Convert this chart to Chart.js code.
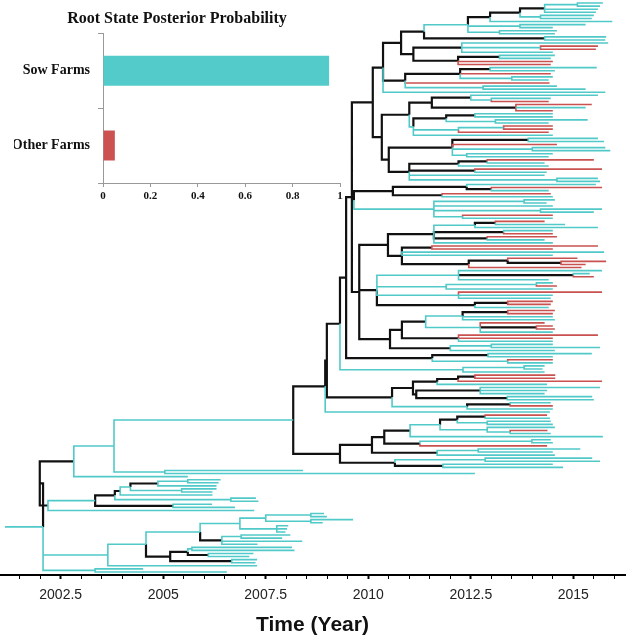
<!DOCTYPE html>
<html>
<head>
<meta charset="utf-8">
<script src="https://cdn.jsdelivr.net/npm/chart.js@4.4.1/dist/chart.umd.min.js"></script>
<style>
  html, body { margin: 0; padding: 0; background: #fff; }
  #wrap { position: relative; width: 630px; height: 640px; }
  #treeChart, #rootChart { position: absolute; left: 0; top: 0; }
</style>
</head>
<body>
<div id="wrap">
  <canvas id="treeChart" width="630" height="640"></canvas>
  <canvas id="rootChart" width="354" height="205"></canvas>
</div>
<script>
// inset: posterior probability of the root state
const rootStates = ['Sow Farms', 'Other Farms'];
const rootProbs = [0.954, 0.05];
const probTicks = [0, 0.2, 0.4, 0.6, 0.8, 1];

// time axis
const yearTicks = [2002.5, 2005, 2007.5, 2010, 2012.5, 2015];
const yearMin = 2001.02;
const yearMax = 2016.26;

// tree clades, newick-like: state letter + node time (years after 2000)
// S = sow farms (teal), O = other farms (red), K = black
const yearBase = 2000;
const rootStart = 1.14;

const cladeI = "((((S15.72,S15.65)S15.1,S15.6,S15.55)K14.3,(S15.5,S15.45)S14.2)K13.7,S15.95)K12.97";
const cladeG2 = "((S15.85,(O15.6,O15.55)S14.2,S14.5)K12.28,((S14.55,S14.45)K13.2,O14.5,O14.45)K12.19)K11.1";
const cladeF2 = "(((S15.57,S14.55)K12.97,O14.45,(S14.5,S14.4)S13.5)K12.24,O14.42,(S14.6,S15.3)S12.8)K10.9";
const cladeNa1 = "((S15.6,(S14.45,O14.4)S13.0)K12.5,(O15.45,S15.3,O14.5)K13.6)K11.55";
const cladeNa2 = "(((S14.5,S14.5)K12.6,(S15.35,S14.4)S13.1)K11.9,((O14.5,O14.5)S13.3,O14.4)S12.2,S14.5)S11.1";
const cladeNb1 = "((S15.6,S15.75)K13.9,O14.6,(S15.78,S15.9)S14.0,(S14.5,S14.4)S12.4)K12.05";
const cladeNb2 = "(((O15.5,S14.3)K12.9,S14.4)K12.2,(O15.7,S14.35)K12.6,S14.3,(S15.6,S15.65)S14.6)K11.0";
const cladeMk = "((S15.55,(O15.7,S14.4)K13.0)K12.4,(O14.45,S14.5)K11.8)K10.6";
const cladeMt = "((S14.55,S14.35)S13.8,S14.5,(S15.7,S15.5)S14.2,(O14.5,S14.5)S12.3)S11.6";
const cladeN435 = "(((O14.3,S14.8)K13.1,S15.6)S12.6,(S14.5,O14.5)K13.3,(O14.6,S14.3)K12.9,S14.5)K11.6";
const cladeN403 = "((O15.6,O14.5)K11.55,S15.75,S14.5,((O15.1,(O15.8,O15.3)K14.7)K13.4,O15.2)K12.45)K10.82";
const cladeN377 = "((S15.7,(S15.4,O15.5)K15.0,S14.4)S12.2,((S14.5,O14.6)S14.1,S14.5)S11.9,(O15.7,S14.5,S14.45)S12.2,((O14.5,O14.45)K13.4,S14.4)K12.6)K10.21";
const cladeN428 = "(((O14.55,O14.5)K13.4,S14.5,S14.55)S12.3,(O14.3,(O14.5,O14.55)K14.1,S14.5)S12.73)K11.4";
const cladeN460 = "(O15.6,O14.5,S14.5)K12.2";
const cladeN450 = "((S14.5,S15.65)S13.0,S14.55)K12.0";
const cladeN432 = "((S15.45,S14.5)K12.92,(O14.5,S14.5)S13.4)K11.56";
const cladeTc = "((S14.3,S14.25)S13.8,S14.3)S12.31";
const cladeQ1 = "((((O14.56,O14.56)K12.6,O15.7)K12.19,S14.36)K11.68,((S15.65,S14.36,S14.3)K12.73,(S15.46,S15.5)K13.39)K11.17)K11.09";
const cladeQ3 = "((S14.45,O14.5)K13.46,S14.5)S12.41";
const cladeN457 = "((O14.36,S14.43)K12.85,(S14.45,S14.5)S12.9)K12.17";
const cladeN487 = "(S14.55,(O14.37,S14.45)S13.46)S12.9";
const cladeN420 = "((S14.45,S14.5)S13.99,O14.36)K11.26";
const cladeD1b = "((S15.17,S14.5)S12.68,S14.55)K11.68";
const cladeD2 = "((S15.46,S15.65)S12.85,(S14.5,S14.75)K11.82)K10.65";
const cladeRup1b = "(S8.41,S12.6)S5.04";
const cladeN131 = "(((S6.4,S6.35)S5.6,S6.3)K4.87,(S6.3,S6.2)S5.45)S4.2";
const cladeN265 = "((S8.92,S8.99)S8.6,(S9.63,S8.89)S8.6)S7.5";
const cladeN277 = "(S8.05,S8.02,S7.98)S7.77";
const cladeN220 = "((S8.1,S7.9)S6.9,S8.39,S7.3)K6.43";
const cladeN187 = "((S8.14,S8.2)S5.7,(S7.2,S7.1)K6.1)K5.6";
const cladeN232 = "(S7.29,S7.25)K6.67";
const cladeRlow2 = "(S4.51,S6.55)S3.34";

// assemble the backbone
const cladeH = "(" + cladeI + ",(S15.3,S14.5)S13.7,(S14.6,S14.55)S13.2)S12.43";
const cladeG = "((" + cladeH + ",(S15.8,S15.78)K14.3)K11.36," + cladeG2 + ")K10.8";
const cladeF = "(" + cladeG + "," + cladeF2 + ",S15.78)K10.36";
const cladeN381 = "((" + cladeNa1 + "," + cladeNa2 + ")K11.0,(" + cladeNb1 + "," + cladeNb2 + ")K10.5)K10.33";
const cladeX = "(" + cladeF + "," + cladeN381 + ")K10.11";
const cladeM = "(" + cladeMk + "," + cladeMt + ")K9.65";
const cladeN390 = "((" + cladeN428 + "," + cladeN460 + ")K10.82," + cladeN450 + ")K10.53";
const cladeN359 = "((" + cladeN435 + "," + cladeN403 + ")K10.48," + cladeN377 + "," + cladeN390 + ")K9.78";
const cladeC = "(((" + cladeX + "," + cladeM + "," + cladeN359 + ")K9.6," + cladeN432 + ")K9.46," + cladeTc + ")K9.31";
const cladeB = "((" + cladeC + ",(" + cladeQ1 + "," + cladeQ3 + ")K10.58)K8.99,S14.43)K8.95";
const cladeD = "(((((" + cladeN457 + "," + cladeN487 + ")S11.75,S15.72)K11.02," + cladeN420 + ")K10.39," + cladeD1b + ")K10.09," + cladeD2 + ")K9.31";
const cladeA = "(" + cladeB + "," + cladeD + ")S8.17";
const cladeRup = "((((" + cladeA + "," + cladeRup1b + ")S3.8,S5.6)K2.82,(((("
  + cladeN131 + ",S6.2)K3.95,(S7.26,S7.32)S6.65)K3.82,(S6.19,S6.75)K5.24)S3.34,S7.22)K2.19)K1.99";
const cladeRlow = "((((" + cladeN265 + "," + cladeN277 + ")S6.87," + cladeN220 + ")S5.9,("
  + cladeN187 + "," + cladeN232 + ")K5.17)S4.58,S7.29)S3.65," + cladeRlow2 + ")S2.07";
const treeNewick = "(" + cladeRup + "," + cladeRlow + ")S1.29";

const stateColors = { S: '#52c9c9', O: '#c9514f', K: '#111111' };
const stateWidths = { S: 1.6, O: 1.6, K: 2.2 };

function parseTree(str) {
  let pos = 0;
  function readNode() {
    const children = [];
    if (str[pos] === '(') {
      pos++;
      children.push(readNode());
      while (str[pos] === ',') { pos++; children.push(readNode()); }
      pos++;
    }
    const state = str[pos++];
    let num = '';
    while (pos < str.length && /[0-9.]/.test(str[pos])) num += str[pos++];
    return { state: state, t: yearBase + parseFloat(num), children: children };
  }
  return readNode();
}

const root = parseTree(treeNewick);
let tipCount = 0;
function layout(node) {
  if (!node.children.length) { node.y = tipCount++; return; }
  node.children.forEach(layout);
  node.y = (node.children[0].y + node.children[node.children.length - 1].y) / 2;
}
layout(root);

// each branch: drop at parent time, then run to the child's time
const branchPts = { S: [], O: [], K: [] };
function collect(node) {
  node.children.forEach(ch => {
    branchPts[ch.state].push(
      { x: node.t, y: node.y }, { x: node.t, y: ch.y }, { x: ch.t, y: ch.y }, { x: ch.t, y: null });
    collect(ch);
  });
}
branchPts[root.state].push({ x: yearBase + rootStart, y: root.y }, { x: root.t, y: root.y }, { x: root.t, y: null });
collect(root);

const minorYears = [];
for (let v = 2001.5; v <= 2016; v += 0.5) minorYears.push(v);
const isMajor = v => yearTicks.some(t => Math.abs(t - v) < 1e-6);

const treeDatasets = ['S', 'O', 'K'].map(s => ({
  data: branchPts[s],
  showLine: true,
  spanGaps: false,
  borderColor: stateColors[s],
  borderWidth: stateWidths[s],
  borderCapStyle: 'butt',
  borderJoinStyle: 'miter',
  pointRadius: 0,
  pointHoverRadius: 0,
  fill: false
}));

new Chart(document.getElementById('treeChart'), {
  type: 'scatter',
  data: { datasets: treeDatasets },
  options: {
    responsive: false,
    animation: false,
    layout: { padding: { left: 0, right: 5, top: 0, bottom: 0 } },
    plugins: { legend: { display: false }, tooltip: { enabled: false } },
    scales: {
      x: {
        type: 'linear',
        min: yearMin,
        max: yearMax,
        afterBuildTicks: scale => { scale.ticks = minorYears.map(v => ({ value: v })); },
        afterFit: scale => { scale.height = 65; },
        grid: {
          drawOnChartArea: false,
          drawTicks: true,
          tickLength: 4,
          color: '#000',
          tickWidth: ctx => (ctx.tick && isMajor(ctx.tick.value)) ? 2 : 1
        },
        border: { display: true, color: '#000', width: 2 },
        ticks: {
          autoSkip: false,
          maxRotation: 0,
          padding: 8,
          color: '#222',
          font: { family: 'Liberation Sans, Arial, sans-serif', size: 14 },
          callback: v => isMajor(v) ? String(v) : ''
        },
        title: {
          display: true,
          text: 'Time (Year)',
          color: '#111',
          font: { family: 'Liberation Sans, Arial, sans-serif', size: 21, weight: 'bold' },
          padding: { top: 0, bottom: 2 }
        }
      },
      y: { type: 'linear', display: false, reverse: true, min: -1, max: tipCount }
    }
  }
});

new Chart(document.getElementById('rootChart'), {
  type: 'bar',
  data: {
    labels: rootStates,
    datasets: [{
      data: rootProbs,
      backgroundColor: ['#53cbcb', '#cc5252'],
      barPercentage: 0.4,
      categoryPercentage: 1
    }]
  },
  options: {
    indexAxis: 'y',
    responsive: false,
    animation: false,
    layout: { padding: { left: 14, right: 14, top: 0, bottom: 0 } },
    plugins: {
      legend: { display: false },
      tooltip: { enabled: false },
      title: {
        display: true,
        text: 'Root State Posterior Probability',
        color: '#111',
        font: { family: 'Liberation Serif, Times New Roman, serif', size: 16, weight: 'bold' },
        padding: { top: 9, bottom: 5 }
      }
    },
    scales: {
      x: {
        min: 0,
        max: 1,
        afterBuildTicks: scale => { scale.ticks = probTicks.map(v => ({ value: v })); },
        afterFit: scale => { scale.height = 22; },
        grid: { drawOnChartArea: false, tickLength: 4, color: '#999' },
        border: { color: '#999', width: 1 },
        ticks: {
          padding: 3,
          maxRotation: 0,
          color: '#111',
          font: { family: 'Liberation Serif, Times New Roman, serif', size: 11, weight: 'bold' },
          callback: v => String(v)
        }
      },
      y: {
        afterFit: scale => { scale.width = 89; },
        grid: { drawOnChartArea: false, tickLength: 5, color: '#999', offset: true },
        border: { color: '#999', width: 1 },
        ticks: {
          padding: 8,
          color: '#111',
          font: { family: 'Liberation Serif, Times New Roman, serif', size: 14, weight: 'bold' }
        }
      }
    }
  }
});
</script>
</body>
</html>
